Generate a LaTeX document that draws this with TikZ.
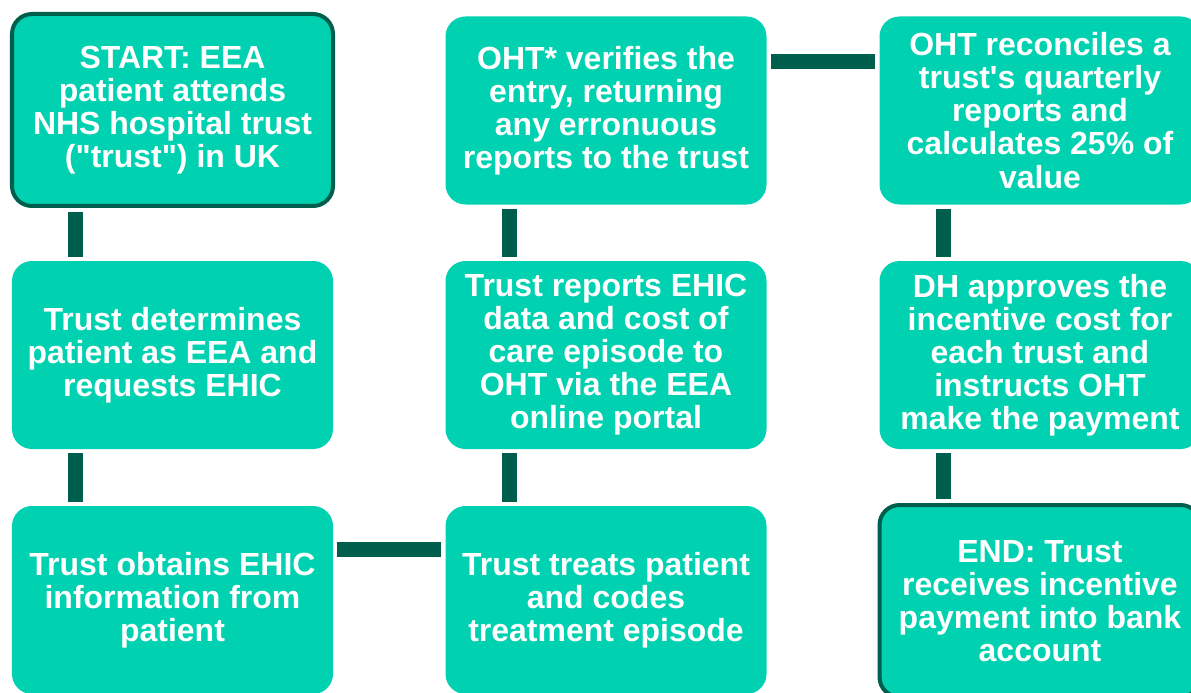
\documentclass[tikz,border=0pt]{standalone}
\usepackage{fontspec}
\setmainfont{Liberation Sans}[Ligatures=TeXOff]
\usepackage{xcolor}
\usepackage{tikz}
\usetikzlibrary{positioning}

\definecolor{boxteal}{HTML}{00D1B0}
\definecolor{bardark}{HTML}{005E4D}

\begin{document}
\begin{tikzpicture}[
            every node/.style={fill=boxteal, text=white, rounded corners=0.4cm, align=center,
                minimum width=6.42cm, minimum height=3.76cm, inner sep=0pt,
                font=\fontsize{18.2}{18.8}\selectfont\bfseries},
            endbox/.style={draw=bardark, line width=0.08cm, minimum height=3.84cm},
            bar/.style={draw=bardark, line width=0.3cm, shorten <=0.08cm, shorten >=0.08cm},
        ]
        \useasboundingbox (0,0) rectangle (23.82,-13.86);
        \clip (0,0) rectangle (23.82,-13.86);
        % first column, top to bottom
        \node (start) at (3.45,-2.2) [endbox] {START: EEA\\patient attends\\NHS hospital trust\\("trust") in UK};
        \node (determine) at (3.45,-7.1) {Trust determines\\patient as EEA and\\requests EHIC};
        \node (obtain) at (3.45,-12.0) {Trust obtains EHIC\\information from\\patient};
        % second column
        \node (treat) at (12.12,-12.0) {Trust treats patient\\and codes\\treatment episode};
        \node (report) at (12.12,-7.1) {Trust reports EHIC\\data and cost of\\care episode to\\OHT via the EEA\\online portal};
        \node (verify) at (12.12,-2.21) {OHT* verifies the\\entry, returning\\any erronuous\\reports to the trust};
        % third column
        \node (reconcile) at (20.8,-2.21) {OHT reconciles a\\trust's quarterly\\reports and\\calculates 25\% of\\value};
        \node (approve) at (20.8,-7.1) {DH approves the\\incentive cost for\\each trust and\\instructs OHT\\make the payment};
        \node (end) at (20.8,-12.02) [endbox] {END: Trust\\receives incentive\\payment into bank\\account};

        \draw[bar] ([xshift=-1.94cm]start.south) -- ([xshift=-1.94cm]determine.north);
        \draw[bar] ([xshift=-1.94cm]determine.south) -- ([xshift=-1.94cm]obtain.north);
        \draw[bar] ([yshift=-0.88cm]obtain.north east) -- ([yshift=-0.88cm]treat.north west);
        \draw[bar] ([xshift=-1.94cm]treat.north) -- ([xshift=-1.94cm]report.south);
        \draw[bar] ([xshift=-1.94cm]report.north) -- ([xshift=-1.94cm]verify.south);
        \draw[bar] ([yshift=-0.9cm]verify.north east) -- ([yshift=-0.9cm]reconcile.north west);
        \draw[bar] ([xshift=-1.94cm]reconcile.south) -- ([xshift=-1.94cm]approve.north);
        \draw[bar] ([xshift=-1.94cm]approve.south) -- ([xshift=-1.94cm]end.north);
\end{tikzpicture}
\end{document}
